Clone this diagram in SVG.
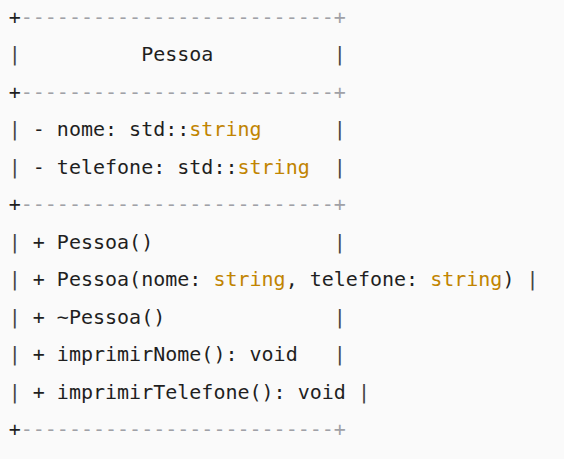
<svg xmlns="http://www.w3.org/2000/svg" width="564" height="459" viewBox="0 0 564 459">
<style>
text{font-family:"DejaVu Sans Mono","Liberation Mono",monospace;font-size:20px;fill:#1f1f1f;white-space:pre}
.p{fill:#444}
.d{fill:#a0a1a7}
.s{fill:#c18401}
</style>
<rect width="564" height="459" fill="#fafafa"/>
<g id="pessoa" xml:space="preserve">
<text x="8.7" y="23.5">+<tspan class="d">--------------------------+</tspan></text>
<text x="8.7" y="61"><tspan class="p">|</tspan>          Pessoa          <tspan class="p">|</tspan></text>
<text x="8.7" y="98.5">+<tspan class="d">--------------------------+</tspan></text>
<text x="8.7" y="136"><tspan class="p">|</tspan> - nome: std::<tspan class="s">string</tspan>      <tspan class="p">|</tspan></text>
<text x="8.7" y="173.5"><tspan class="p">|</tspan> - telefone: std::<tspan class="s">string</tspan>  <tspan class="p">|</tspan></text>
<text x="8.7" y="211">+<tspan class="d">--------------------------+</tspan></text>
<text x="8.7" y="248.5"><tspan class="p">|</tspan> + Pessoa()               <tspan class="p">|</tspan></text>
<text x="8.7" y="286"><tspan class="p">|</tspan> + Pessoa(nome: <tspan class="s">string</tspan>, telefone: <tspan class="s">string</tspan>) <tspan class="p">|</tspan></text>
<text x="8.7" y="323.5"><tspan class="p">|</tspan> + ~Pessoa()              <tspan class="p">|</tspan></text>
<text x="8.7" y="361"><tspan class="p">|</tspan> + imprimirNome(): void   <tspan class="p">|</tspan></text>
<text x="8.7" y="398.5"><tspan class="p">|</tspan> + imprimirTelefone(): void <tspan class="p">|</tspan></text>
<text x="8.7" y="436">+<tspan class="d">--------------------------+</tspan></text>
</g>
<g id="connectors"/>
</svg>
